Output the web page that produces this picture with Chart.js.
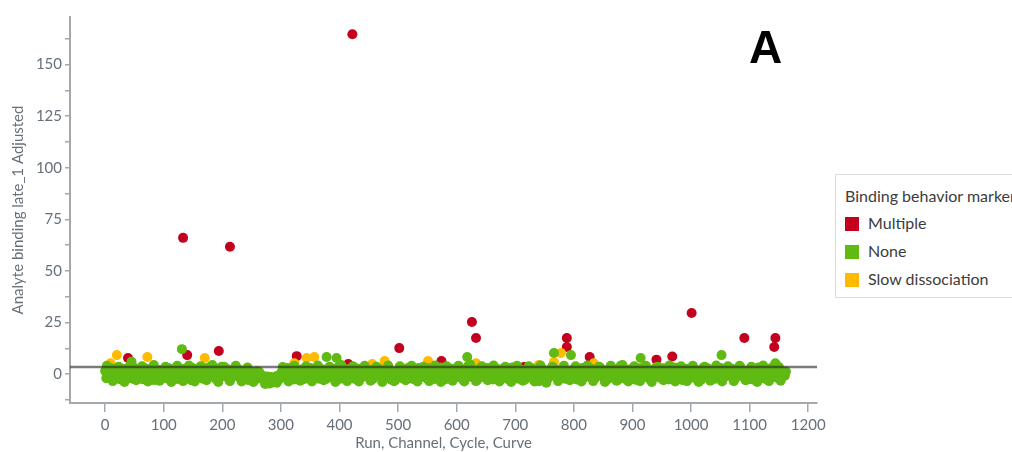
<!DOCTYPE html>
<html>
<head>
<meta charset="utf-8">
<script src="https://cdn.jsdelivr.net/npm/chart.js@4"></script>
<style>
  body { margin: 0; background: #fff; overflow: hidden; font-family: Lato, sans-serif; }
  #wrap { position: relative; width: 1012px; height: 452px; }
  #panel { position: absolute; left: 749px; top: 24px; font: bold 46px/46px "Liberation Sans", Arial, sans-serif; color: #000; }
  #legend { position: absolute; left: 835px; top: 174px; width: 190px; height: 122px; border: 1px solid #dcdcdc; background: #fff; color: #3c3c3c; font-size: 16px; }
  #legend .ttl { position: absolute; left: 9px; top: 11px; white-space: nowrap; }
  #legend .item { position: absolute; left: 9px; height: 18px; line-height: 18px; white-space: nowrap; }
  #legend .sw { display: inline-block; width: 14px; height: 14px; vertical-align: -2px; margin-right: 9px; }
</style>
</head>
<body>
<div id="wrap">
  <canvas id="scatter" width="1012" height="452"></canvas>
  <div id="panel">A</div>
  <div id="legend"></div>
</div>
<script>
const seriesNames = ['Multiple', 'None', 'Slow dissociation'];
const seriesColors = ['#c3001e', '#5fba12', '#ffbb00'];

const multipleRun = [39, 133, 140, 194, 213, 327, 415, 422, 502, 574, 626, 633, 715, 788, 788, 827, 941, 968, 1001, 1091, 1142, 1144];
const multipleValue = [7.8, 66.0, 9.2, 11.2, 61.7, 8.7, 4.9, 164.6, 12.6, 6.3, 25.2, 17.5, 3.4, 17.5, 13.1, 8.3, 7.0, 8.5, 29.6, 17.5, 13.1, 17.5];

const slowRun = [5, 9, 20, 72, 170, 323, 344, 357, 400, 456, 477, 551, 633, 740, 766, 778, 834];
const slowValue = [3.9, 5.3, 9.2, 8.3, 7.8, 5.3, 7.8, 8.3, 3.4, 4.9, 6.3, 6.3, 5.3, 4.4, 5.8, 10.2, 5.3];

const noneRun = [
  0, 4, 9, 14, 19, 24, 29, 34, 39, 44, 49, 54, 59,
  64, 69, 74, 79, 84, 89, 94, 99, 104, 109, 114, 119, 124, 129,
  134, 139, 144, 149, 154, 159, 164, 169, 174, 179, 184, 189, 194, 199,
  204, 209, 214, 219, 224, 229, 234, 239, 244, 249, 254, 259, 264,
  268, 272, 276, 280, 284, 288, 292, 296,
  300, 305, 310, 315, 320, 325, 330, 335, 340, 345, 350, 355, 360, 365, 370, 375, 380, 385, 390, 395, 400, 405, 410, 415, 420,
  425, 430, 435, 440, 445, 450, 455, 460, 465, 470, 475, 480, 485, 490, 495, 500, 505, 510, 515, 520, 525, 530, 535, 540, 545, 550, 555, 560,
  565, 570, 575, 580, 585, 590, 595, 600, 605, 610, 615, 620, 625, 630, 635, 640, 645, 650, 655, 660, 665, 670, 675, 680, 685, 690, 695, 700,
  705, 710, 715, 720, 725, 730, 735, 740, 745, 750, 755, 760, 765, 770, 775, 780, 785, 790, 795, 800, 805, 810, 815, 820, 825, 830, 835, 840, 845, 850, 855, 860,
  865, 870, 875, 880, 885, 890, 895, 900, 905, 910, 915, 920, 925, 930, 935, 940, 945, 950, 955, 960, 965, 970, 975, 980, 985, 990, 995, 1000,
  1005, 1010, 1015, 1020, 1025, 1030, 1035, 1040, 1045, 1050, 1055, 1060, 1065, 1070, 1075, 1080, 1085, 1090, 1095, 1100, 1105, 1110, 1115, 1120, 1125, 1130, 1135, 1140, 1145, 1150, 1155, 1160, 1162,
  45, 131, 378, 395, 618, 766, 795, 914, 1052, 1144,
  2, 7, 12, 17, 22, 27, 32, 37, 42, 47, 52, 57, 62, 67, 72, 77, 82, 87, 92, 97,
  102, 107, 112, 117, 122, 127, 132, 137, 142, 147, 152, 157, 162, 167, 172, 177, 182, 187, 192, 197,
  202, 207, 212, 217, 222, 227, 232, 237, 242, 247, 252, 257,
  262, 267, 272, 277, 282, 287, 292, 297,
  302, 307, 312, 317, 322, 327, 332, 337, 342, 347, 352, 357, 362, 367, 372, 377, 382, 387, 392, 397,
  402, 407, 412, 417, 422, 427, 432, 437, 442, 447, 452, 457, 462, 467, 472, 477, 482, 487, 492, 497,
  502, 507, 512, 517, 522, 527, 532, 537, 542, 547, 552, 557, 562, 567, 572, 577, 582, 587, 592, 597,
  602, 607, 612, 617, 622, 627, 632, 637, 642, 647, 652, 657, 662, 667, 672, 677, 682, 687, 692, 697,
  702, 707, 712, 717, 722, 727, 732, 737, 742, 747, 752, 757, 762, 767, 772, 777, 782, 787, 792, 797,
  802, 807, 812, 817, 822, 827, 832, 837, 842, 847, 852, 857, 862, 867, 872, 877, 882, 887, 892, 897,
  902, 907, 912, 917, 922, 927, 932, 937, 942, 947, 952, 957, 962, 967, 972, 977, 982, 987, 992, 997,
  1002, 1007, 1012, 1017, 1022, 1027, 1032, 1037, 1042, 1047, 1052, 1057, 1062, 1067, 1072, 1077, 1082, 1087, 1092, 1097,
  1102, 1107, 1112, 1117, 1122, 1127, 1132, 1137, 1142, 1147, 1152, 1157,
  3, 13, 23, 33, 43, 53, 63, 73, 83, 93,
  103, 113, 123, 133, 143, 153, 163, 173, 183, 193,
  203, 213, 223, 233, 243, 253, 263, 273, 283, 293,
  303, 313, 323, 333, 343, 353, 363, 373, 383, 393,
  403, 413, 423, 433, 443, 453, 463, 473, 483, 493,
  503, 513, 523, 533, 543, 553, 563, 573, 583, 593,
  603, 613, 623, 633, 643, 653, 663, 673, 683, 693,
  703, 713, 723, 733, 743, 753, 763, 773, 783, 793,
  803, 813, 823, 833, 843, 853, 863, 873, 883, 893,
  903, 913, 923, 933, 943, 953, 963, 973, 983, 993,
  1003, 1013, 1023, 1033, 1043, 1053, 1063, 1073, 1083, 1093,
  1103, 1113, 1123, 1133, 1143, 1153
];
const noneValue = [
  1.5, -1.2, 3.0, -0.5, 2.0, -2.3, 0.8, 2.6, -1.8, 1.0, 3.2, -0.8, 1.8,
  -2.5, 0.2, 2.4, -1.5, 1.2, -3.0, 2.0, 0.0, -2.0, 2.8, -0.6, 1.6, -2.4, 0.9,
  2.5, -1.8, 0.4, 3.0, -2.6, 1.4, -0.4, 2.2, -1.9, 3.4, 0.6, -2.2, 2.0, 3.6,
  -1.0, 2.4, -2.4, 1.0, 2.6, -1.6, 0.5, 2.0, -2.8, 1.2, -0.6, 1.4, -2.0,
  -0.8, -3.2, -1.5, -4.6, -2.5, -4.0, -1.0, -2.8,
  0.5, 2.4, -2.0, 1.0, 2.8, -1.2, 0.4, 2.2, -2.4, 1.6, 3.0, -0.8, 1.2, -2.2, 2.4, 0.2, -1.6, 2.8, 0.8, -2.5, 1.8, 3.2, -1.0, 0.6, 2.2,
  -2.2, 1.0, 2.6, -1.4, 0.2, 2.0, -2.6, 1.4, 3.0, -0.6, 1.6, -2.0, 2.4, 0.4, -3.0, 1.8, 2.8, -1.2, 0.8, 2.2, -2.4, 1.2, 3.0, -0.8, 1.8, -2.2, 0.6, 2.6,
  -1.6, 1.0, 3.0, -2.6, 0.4, 2.2, -1.0, 1.4, 3.2, -2.2, 0.8, 4.2, -1.4, 1.6, -2.8, 2.4, 0.2, -1.8, 2.0, 3.0, -0.8, 1.2, -2.4, 2.6, 0.4, -1.6, 3.2, 1.0,
  -2.2, 2.0, 0.4, -1.4, 2.6, -0.4, 1.4, -3.4, 2.2, 0.2, -2.0, 1.6, 3.0, -1.0, 0.6, 2.6, -2.2, 1.2, -0.6, 2.4, -2.6, 1.0, 3.0, -1.4, 0.8, 2.2, -2.4, 1.4, 3.2, -0.8, 1.8, -2.0,
  0.6, 2.4, -2.8, 4.0, 0.2, -1.6, 2.2, 1.0, -2.4, 2.8, 0.4, -1.2, 2.0, -2.6, 1.2, 3.2, -0.6, 1.6, -2.2, 2.6, 0.4, -1.8, 2.2, 1.0, -2.8, 2.4, 0.2, -1.4,
  2.0, -2.4, 0.8, 2.8, -1.2, 1.2, -2.6, 2.2, 0.0, 3.0, -1.8, 1.4, -0.6, 2.6, -2.2, 1.0, 3.0, -1.0, 0.6, 2.2, -2.6, 1.6, 3.2, -0.8, 1.2, -2.0, 2.6, 0.4, -1.6, 3.4, 1.0, -0.8, 1.2,
  6.0, 12.1, 8.3, 7.8, 8.3, 10.2, 9.2, 7.8, 9.2, 5.3,
  -2.0, 1.8, 0.2, -1.0, 3.2, -2.6, 1.4, -0.2, 2.8, -2.2, 0.6, 2.0, -1.4, 3.0, -0.6, 1.6, -2.8, 2.2, 0.8, -1.6,
  2.6, -0.4, 1.2, -2.6, 3.2, 0.0, -1.8, 2.4, 1.0, -3.0, 2.0, -0.8, 1.6, -2.2, 2.8, 0.4, -1.2, 3.0, -2.4, 1.4,
  2.8, 0.2, -2.8, 1.8, -0.6, 2.4, -2.2, 1.0, 2.2, -1.4, 0.2, -2.6,
  -1.6, -0.4, -2.8, -1.2, -3.8, -2.0, -3.4, -0.6,
  -1.6, 1.4, 3.0, -0.4, -2.6, 2.0, 0.8, -1.8, 2.6, 1.2, -2.8, 0.4, 3.0, -1.2, 1.8, -2.4, 2.2, -0.6, 1.0, 3.2,
  -2.2, 0.6, 2.4, -1.6, 1.6, 3.0, -2.8, 0.2, 2.2, -1.0, 1.2, -2.4, 2.8, 0.0, -1.6, 2.0, 3.2, -2.6, 1.0, -0.4,
  2.4, -2.0, 1.4, 3.0, -1.2, 0.4, -2.8, 2.2, 1.0, -1.8, 2.8, 0.6, -2.4, 1.8, 3.2, -0.6, 1.2, -2.2, 2.6, 0.2,
  -1.4, 2.0, -2.8, 1.4, 3.4, -0.4, -2.2, 2.2, 0.8, -1.6, 3.0, 1.2, -2.6, 0.4, 2.4, -1.2, 1.8, -2.4, 2.8, 0.0,
  -1.6, 2.6, 1.0, -2.6, 1.6, 3.0, -1.2, 0.2, -3.2, 2.4, 1.2, -1.8, 2.8, -0.4, 1.4, -2.2, 3.2, 0.6, -1.4, 2.0,
  -2.2, 0.8, 2.6, -1.6, 1.2, 3.0, -2.4, 0.2, 2.2, -1.0, 1.6, -2.6, 2.8, 0.4, -1.4, 2.0, 3.4, -2.2, 1.0, -0.2,
  2.4, -2.8, 1.2, 3.0, -1.2, 0.6, -2.4, 2.2, 1.4, -1.8, 2.8, 0.0, -2.6, 1.6, 3.2, -0.8, 1.0, -2.2, 2.6, 0.4,
  -1.6, 2.2, 1.0, -2.8, 1.8, 3.0, -0.6, 0.4, -2.2, 2.6, 1.2, -1.4, 3.2, 0.2, -2.4, 1.6, 2.4, -1.0, 0.8, -2.6,
  2.0, 0.4, -1.8, 2.8, 1.2, -2.4, 0.6, 3.0, -1.2, 1.8, -2.2, 0.4,
  4.0, -3.4, 3.6, -3.8, 4.2, -3.0, 3.8, -3.6, 4.4, -3.2,
  3.6, -3.8, 4.0, -3.4, 4.2, -3.6, 3.8, -3.0, 4.4, -3.8,
  3.6, -3.4, 4.0, -3.6, 3.2, -3.8, 1.0, -4.8, -1.4, -4.2,
  3.4, -3.6, 4.0, -3.2, 3.8, -3.6, 4.2, -3.0, 3.6, -3.8,
  4.4, -3.4, 3.8, -3.6, 4.0, -3.2, 3.6, -3.8, 4.2, -3.4,
  3.8, -3.0, 4.0, -3.6, 3.6, -3.4, 4.2, -3.8, 3.8, -3.2,
  4.0, -3.6, 4.6, -3.4, 3.8, -3.0, 4.2, -3.6, 3.6, -3.8,
  4.0, -3.2, 3.8, -3.6, 4.2, -4.2, 3.6, -3.4, 4.0, -3.0,
  3.8, -3.6, 4.2, -3.4, 3.6, -3.8, 4.0, -3.2, 4.4, -3.6,
  3.8, -3.4, 4.0, -3.8, 3.6, -3.0, 4.2, -3.6, 3.8, -3.4,
  4.0, -3.8, 3.6, -3.2, 4.2, -3.6, 3.8, -3.4, 4.0, -3.0,
  3.6, -3.8, 4.2, -3.4, 4.4, -3.2
];

const referenceLevel = 3.4;
const xTickValues = [0, 100, 200, 300, 400, 500, 600, 700, 800, 900, 1000, 1100, 1200];
const yTickValues = [-12.5, 0, 12.5, 25, 37.5, 50, 62.5, 75, 87.5, 100, 112.5, 125, 137.5, 150, 162.5];

const toPoints = (xs, ys) => xs.map((x, i) => ({ x: x, y: ys[i] }));
const axisGrey = '#a3a8ad';
const tickText = '#66707a';

new Chart(document.getElementById('scatter'), {
  type: 'scatter',
  data: {
    datasets: [
      {
        type: 'line',
        label: 'level',
        data: [{ x: -60, y: referenceLevel }, { x: 1215, y: referenceLevel }],
        borderColor: 'rgba(40,40,40,0.62)',
        borderWidth: 2.5,
        pointRadius: 0
      },
      {
        label: seriesNames[1],
        data: toPoints(noneRun, noneValue),
        backgroundColor: seriesColors[1],
        borderWidth: 0,
        pointRadius: 5
      },
      {
        label: seriesNames[2],
        data: toPoints(slowRun, slowValue),
        backgroundColor: seriesColors[2],
        borderWidth: 0,
        pointRadius: 5
      },
      {
        label: seriesNames[0],
        data: toPoints(multipleRun, multipleValue),
        backgroundColor: seriesColors[0],
        borderWidth: 0,
        pointRadius: 5
      }
    ]
  },
  options: {
    responsive: false,
    animation: false,
    layout: { padding: { top: 17, right: 195, left: 0, bottom: 0 } },
    plugins: { legend: { display: false }, tooltip: { enabled: false } },
    scales: {
      x: {
        type: 'linear',
        min: -60,
        max: 1215,
        afterFit: s => { s.height = 49; },
        afterBuildTicks: s => { s.ticks = xTickValues.map(v => ({ value: v })); },
        grid: { drawOnChartArea: false, drawTicks: true, tickLength: 9, color: axisGrey, lineWidth: 1.5 },
        border: { display: true, color: axisGrey, width: 2 },
        ticks: { color: tickText, font: { family: 'Lato', size: 15 }, padding: 4, maxRotation: 0, callback: v => String(v) },
        title: { display: true, text: 'Run, Channel, Cycle, Curve', color: tickText, font: { family: 'Lato', size: 15 }, padding: { top: 0, bottom: 0 } }
      },
      y: {
        min: -14,
        max: 173,
        afterFit: s => { s.width = 70; },
        afterBuildTicks: s => { s.ticks = yTickValues.map(v => ({ value: v })); },
        grid: { drawOnChartArea: false, drawTicks: true, tickLength: 5, color: axisGrey, lineWidth: 1.5 },
        border: { display: true, color: axisGrey, width: 2 },
        ticks: {
          color: tickText,
          font: { family: 'Lato', size: 15 },
          padding: 3,
          callback: v => (v % 25 === 0 ? String(v) : '')
        },
        title: { display: true, text: 'Analyte binding late_1 Adjusted', color: tickText, font: { family: 'Lato', size: 15 }, padding: { top: 9, bottom: 0 } }
      }
    }
  }
});

// legend box on the right, same order as the original
const legendBox = document.getElementById('legend');
legendBox.innerHTML = '<div class="ttl">Binding behavior marker</div>' +
  seriesNames.map((name, i) =>
    '<div class="item" style="top:' + (39 + i * 28) + 'px"><span class="sw" style="background:' + seriesColors[i] + '"></span>' + name + '</div>'
  ).join('');
</script>
</body>
</html>
